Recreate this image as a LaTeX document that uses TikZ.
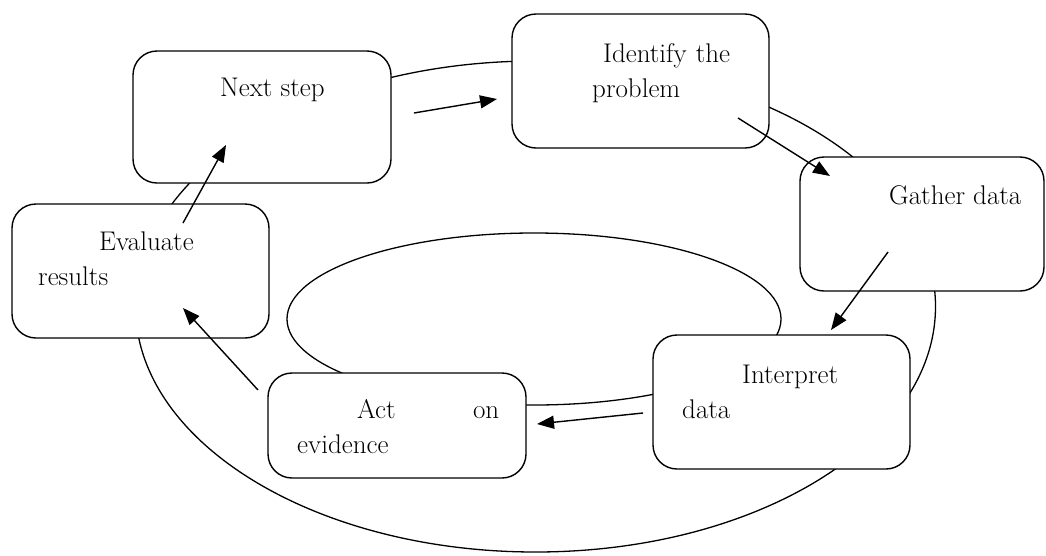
\documentclass[tikz,border=0pt]{standalone}
\usetikzlibrary{arrows.meta}
\tikzset{
  stepbox/.style={draw, line width=1.4pt, rounded corners=24pt, fill=white, inner sep=0pt},
  steptext/.style={anchor=base west, inner sep=0pt, align=left, font=\fontsize{27}{35}\selectfont},
  flow/.style={-{Triangle[length=17pt,width=13pt]}, line width=1.4pt},
  loop/.style={line width=1.3pt},
}
\begin{document}
\begin{tikzpicture}[x=1pt,y=-1pt]
\useasboundingbox (0,0) rectangle (1046,555);
% loops behind the boxes
\draw[loop] (535.5,306.5) ellipse (400 and 245.5);
\draw[loop] (534,319) ellipse (247 and 86);
% boxes
\node[stepbox, minimum width=258pt, minimum height=132pt] (next) at (262,117) {};
\node[stepbox, minimum width=257pt, minimum height=134pt] (ident) at (640.5,81) {};
\node[stepbox, minimum width=244pt, minimum height=134pt] (gather) at (922,224) {};
\node[stepbox, minimum width=257pt, minimum height=134pt] (interp) at (781.5,402) {};
\node[stepbox, minimum width=258pt, minimum height=105pt] (act) at (397,425.5) {};
\node[stepbox, minimum width=257pt, minimum height=134pt] (eval) at (140.5,271) {};
% texts
\node[steptext] (next-t) at (220,96) {Next step};
\node[steptext, text width=150pt] (ident-t) at (592,62) {\hspace*{11pt}Identify the\\problem};
\node[steptext] (gather-t) at (889,204) {Gather data};
\node[steptext, text width=170pt] (interp-t) at (682,383) {\hspace*{60pt}Interpret\\data};
\node[steptext, text width=202pt] (act-t) at (297,418) {\hspace*{60pt}Act\hfill on\\evidence};
\node[steptext, text width=170pt] (eval-t) at (38,250) {\hspace*{61pt}Evaluate\\results};
% arrow ends
\coordinate (next-out) at (414,113);
\coordinate (ident-in) at (497,99);
\coordinate (ident-out) at (738,118);
\coordinate (gather-in) at (830,176);
\coordinate (gather-out) at (888,252);
\coordinate (interp-in) at (831,330);
\coordinate (interp-out) at (643,413);
\coordinate (act-in) at (537,424);
\coordinate (act-out) at (258,390);
\coordinate (eval-in) at (183,308);
\coordinate (eval-out) at (183,223);
\coordinate (next-in) at (226,145);
% arrows
\draw[flow] (next-out) -- (ident-in);
\draw[flow] (ident-out) -- (gather-in);
\draw[flow] (gather-out) -- (interp-in);
\draw[flow] (interp-out) -- (act-in);
\draw[flow] (act-out) -- (eval-in);
\draw[flow] (eval-out) -- (next-in);
\end{tikzpicture}
\end{document}
